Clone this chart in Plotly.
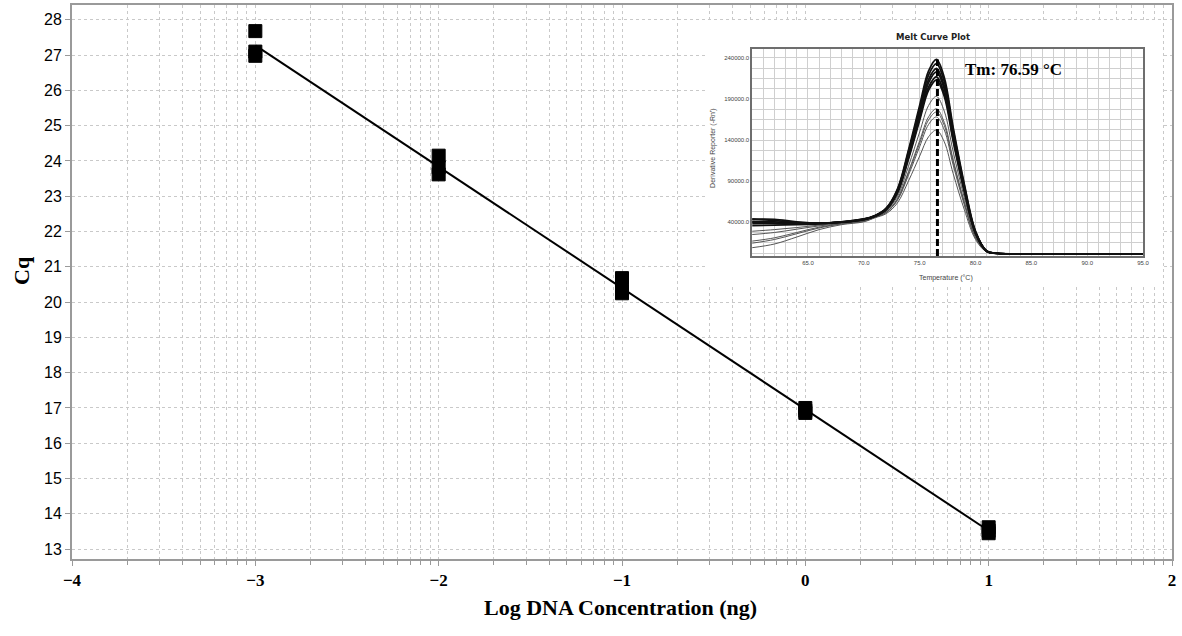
import numpy as np
import plotly.graph_objects as go

# ---------------- main standard-curve data ----------------
log_conc = [-3, -3, -3, -2, -2, -2, -1, -1, -1, 0, 0, 0, 1, 1, 1]
cq = [27.68, 27.10, 26.98, 24.15, 23.82, 23.62, 20.68, 20.32, 20.25,
      17.00, 16.92, 16.86, 13.62, 13.52, 13.45]

x_ticks = [-4, -3, -2, -1, 0, 1, 2]
y_ticks = list(range(13, 29))

# ---------------- inset melt-curve data ----------------
temps = [60, 62, 64, 66, 68, 70, 71, 72, 73, 74, 75, 75.8, 76.5, 77.2, 78, 79, 80, 81, 82, 84, 95]
melt_c1 = [43500, 43500, 40500, 39000, 40500, 44000, 48000, 57000, 80000, 128000, 182000, 224000, 238000, 216000, 155000, 86000, 29000, 5000, 2000, 1500, 1500]
melt_c2 = [41000, 40500, 39000, 39000, 40000, 43500, 47800, 56600, 79000, 125800, 178400, 219300, 233000, 211500, 151800, 84200, 28400, 4900, 2000, 1500, 1500]
melt_c3 = [44000, 42000, 39500, 38500, 40000, 43000, 47700, 56200, 77900, 123200, 174200, 213800, 227000, 205900, 147800, 82000, 27700, 4800, 2000, 1500, 1500]
melt_c4 = [38500, 38500, 38000, 38500, 40000, 43000, 47500, 55800, 77100, 121400, 171200, 210000, 223000, 202300, 145200, 80600, 27200, 4800, 2000, 1500, 1500]
melt_c5 = [36000, 36500, 37000, 38000, 40000, 43500, 47400, 55400, 75900, 118800, 167000, 204500, 217000, 196900, 141300, 78500, 26600, 4700, 2000, 1500, 1500]
melt_c6 = [40000, 39000, 38000, 38500, 40500, 44000, 47200, 55100, 75100, 117000, 164100, 200700, 213000, 193300, 138700, 77000, 26100, 4600, 2000, 1500, 1500]
melt_c7 = [29000, 31000, 33500, 36500, 39000, 42500, 46600, 53600, 71300, 108200, 149800, 182100, 193000, 175200, 125800, 69900, 23800, 4300, 2000, 1500, 1500]
melt_c8 = [25000, 27500, 31500, 35500, 38500, 42000, 46200, 52400, 68400, 101700, 139200, 168300, 178000, 161500, 116000, 64500, 22000, 4100, 2000, 1500, 1500]
melt_c9 = [17000, 21000, 27500, 34000, 38000, 41500, 46000, 52100, 67600, 99900, 136200, 164500, 174000, 157900, 113400, 63100, 21500, 4100, 2000, 1500, 1500]
melt_c10 = [14500, 19000, 26000, 33000, 38000, 41000, 45900, 51600, 66400, 97300, 132000, 159000, 168000, 152500, 109600, 61000, 20900, 4000, 2000, 1500, 1500]
melt_c11 = [9000, 13500, 22000, 31000, 37000, 40500, 45400, 50400, 63300, 90200, 120500, 144100, 152000, 137900, 99100, 55200, 19000, 3700, 2000, 1500, 1500]
thick_curves = [melt_c1, melt_c2, melt_c3, melt_c4, melt_c5, melt_c6]
thin_curves = [melt_c7, melt_c8, melt_c9, melt_c10, melt_c11]

tm = 76.59
inset_x_ticks = [65, 70, 75, 80, 85, 90, 95]
inset_y_ticks = [40000, 90000, 140000, 190000, 240000]
inset_x_range = [60, 95]
inset_y_range = [-1200, 251300]

# ---------------- figure ----------------
fig = go.Figure()

# linear fit
slope, intercept = np.polyfit(log_conc, cq, 1)
fit_x = [min(log_conc), max(log_conc)]
fig.add_trace(go.Scatter(x=fit_x, y=[slope * v + intercept for v in fit_x], mode="lines",
                         line=dict(color="black", width=2), showlegend=False, hoverinfo="skip"))
fig.add_trace(go.Scatter(x=log_conc, y=cq, mode="markers",
                         marker=dict(symbol="square", size=13, color="black",
                                     line=dict(color="black", width=1)),
                         showlegend=False))

# white cover subplot behind inset
fig.add_trace(go.Scatter(x=[], y=[], xaxis="x2", yaxis="y2", showlegend=False))

# inset curves
for c in thin_curves:
    fig.add_trace(go.Scatter(x=temps, y=c, mode="lines", xaxis="x3", yaxis="y3",
                             line=dict(color="#555555", width=1, shape="spline", smoothing=1),
                             showlegend=False, hoverinfo="skip"))
for c in thick_curves:
    fig.add_trace(go.Scatter(x=temps, y=c, mode="lines", xaxis="x3", yaxis="y3",
                             line=dict(color="#111111", width=1.8, shape="spline", smoothing=1),
                             showlegend=False, hoverinfo="skip"))
fig.add_trace(go.Scatter(x=[tm, tm], y=[inset_y_range[0], max(melt_c1)], mode="lines",
                         xaxis="x3", yaxis="y3",
                         line=dict(color="black", width=3, dash="7px,3px"),
                         showlegend=False, hoverinfo="skip"))

minor_vals = [n + np.log10(k) for n in range(-4, 2) for k in range(2, 10)]

grid_col = "#c9c9c9"
fig.update_layout(
    width=1182, height=636,
    margin=dict(l=72, r=9, t=3, b=77),
    paper_bgcolor="white", plot_bgcolor="white",
    showlegend=False,
    xaxis=dict(range=[-4, 2], tickmode="array", tickvals=x_ticks,
               showgrid=True, gridcolor=grid_col, griddash="3px,3px", gridwidth=1,
               zeroline=False, showline=True, linecolor="#9a9a9a", linewidth=2, mirror=True,
               ticks="outside", ticklen=5, tickcolor="#9a9a9a", tickwidth=1,
               ticklabelstandoff=0,
               tickfont=dict(family="Liberation Serif", size=17, color="black", weight="bold"),
               minor=dict(tickmode="array", tickvals=minor_vals, showgrid=True,
                          gridcolor=grid_col, griddash="3px,3px", gridwidth=1,
                          ticks="outside", ticklen=4, tickcolor="#9a9a9a"),
               domain=[0, 1], anchor="y"),
    yaxis=dict(range=[12.72, 28.42], tickmode="array", tickvals=y_ticks,
               showgrid=True, gridcolor=grid_col, griddash="3px,3px", gridwidth=1,
               zeroline=False, showline=True, linecolor="#9a9a9a", linewidth=2, mirror=True,
               ticks="outside", ticklen=5, tickcolor="#9a9a9a", tickwidth=1,
               tickfont=dict(family="Liberation Sans", size=16, color="black"),
               domain=[0, 1], anchor="x"),
    xaxis2=dict(domain=[0.5758, 0.990], anchor="y2", visible=False, range=[0, 1]),
    yaxis2=dict(domain=[0.4964, 0.9676], anchor="x2", visible=False, range=[0, 1]),
    xaxis3=dict(domain=[0.6183, 0.9737], anchor="y3", range=inset_x_range,
                tickmode="array", tickvals=inset_x_ticks, tickformat=".1f",
                showgrid=True, gridcolor="#cfcfcf", gridwidth=1,
                minor=dict(dtick=1, tick0=60, showgrid=True, gridcolor="#cfcfcf", gridwidth=1),
                zeroline=False, showline=True, linecolor="#6e6e6e", linewidth=1.5, mirror=True,
                ticks="", tickfont=dict(family="Liberation Sans", size=6, color="#444")),
    yaxis3=dict(domain=[0.5468, 0.9214], anchor="x3", range=inset_y_range,
                tickmode="array", tickvals=inset_y_ticks, tickformat=".1f",
                showgrid=True, gridcolor="#cfcfcf", gridwidth=1,
                minor=dict(dtick=12500, tick0=40000, showgrid=True, gridcolor="#cfcfcf", gridwidth=1),
                zeroline=False, showline=True, linecolor="#6e6e6e", linewidth=1.5, mirror=True,
                ticks="", tickfont=dict(family="Liberation Sans", size=6, color="#444")),
)

annotations = [
    dict(text="Log DNA Concentration (ng)", xref="paper", yref="paper", x=0.4986, y=-0.088,
         xanchor="center", yanchor="middle", showarrow=False,
         font=dict(family="Liberation Serif", size=22, color="black", weight="bold")),
    dict(text="Cq", xref="paper", yref="paper", x=-0.0454, y=0.52, textangle=-90,
         xanchor="center", yanchor="middle", showarrow=False,
         font=dict(family="Liberation Serif", size=22, color="black", weight="bold")),
    dict(text="Melt Curve Plot", xref="x3 domain", yref="y3 domain", x=0.463, y=1.056,
         xanchor="center", yanchor="middle", showarrow=False,
         font=dict(family="DejaVu Sans", size=8.5, color="#222", weight="bold")),
    dict(text="Temperature (°C)", xref="x3 domain", yref="y3 domain", x=0.496, y=-0.104,
         xanchor="center", yanchor="middle", showarrow=False,
         font=dict(family="Liberation Sans", size=7, color="#444")),
    dict(text="Derivative Reporter (-Rn')", xref="x3 domain", yref="y3 domain", x=-0.1007, y=0.52,
         textangle=-90, xanchor="center", yanchor="middle", showarrow=False,
         font=dict(family="Liberation Sans", size=7, color="#444")),
    dict(text=f"Tm: {tm} °C", xref="x3 domain", yref="y3 domain", x=0.668, y=0.898,
         xanchor="center", yanchor="middle", showarrow=False,
         font=dict(family="Liberation Serif", size=17, color="black", weight="bold")),
]
fig.update_layout(annotations=annotations)

fig.write_html("out.html")
